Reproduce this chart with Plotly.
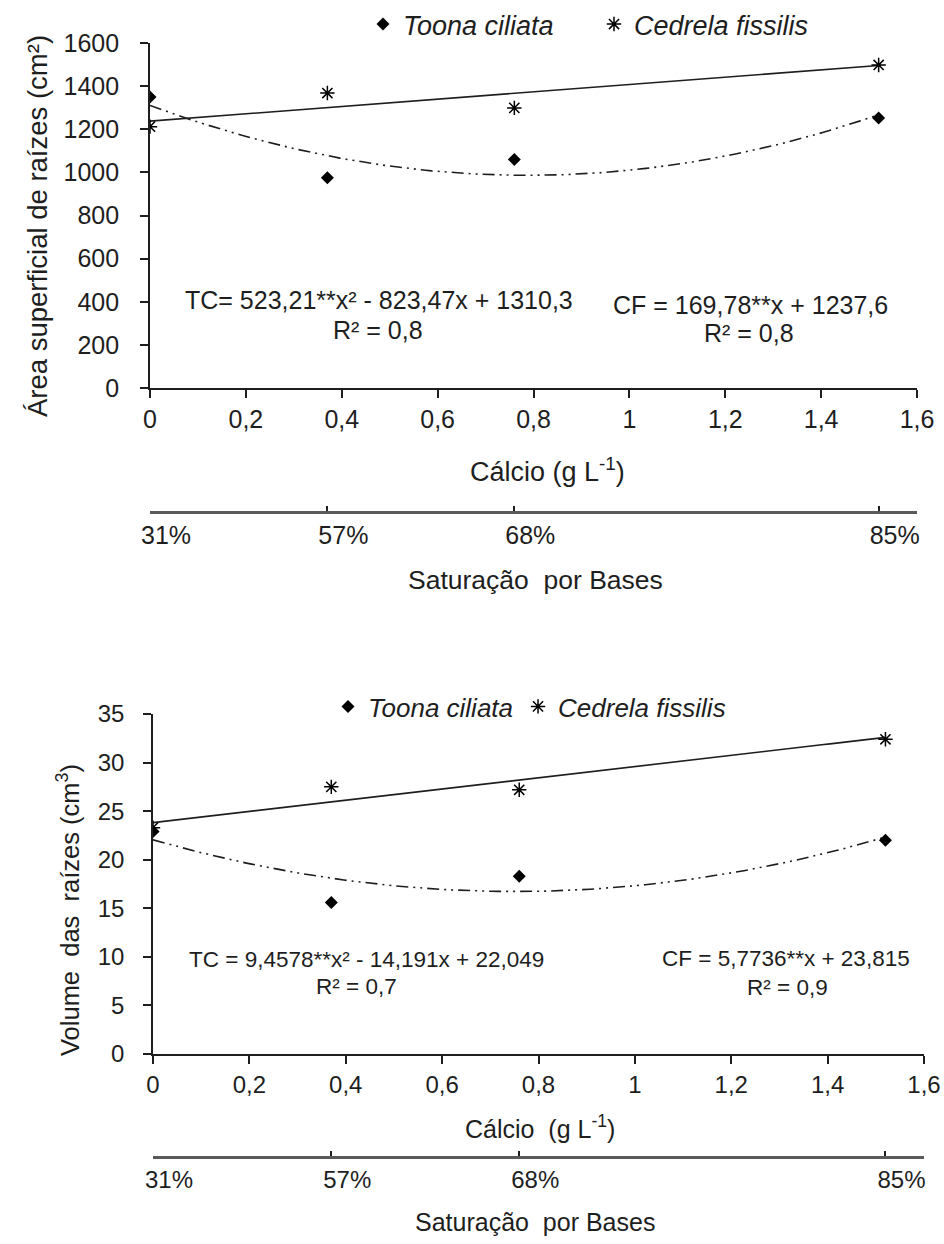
import numpy as np
import plotly.graph_objects as go

# ---- data -------------------------------------------------------------
calcio = [0, 0.37, 0.76, 1.52]                     # Ca (g L-1)
saturacao_ticks = ["31%", "57%", "68%", "85%"]     # base saturation at each Ca level

area_toona = [1350, 975, 1060, 1252]               # root surface area (cm²)
area_cedrela = [1212, 1368, 1299, 1498]

vol_toona = [22.9, 15.6, 18.3, 22.0]               # root volume (cm³)
vol_cedrela = [23.3, 27.5, 27.2, 32.4]

# regression coefficients stated in the equations
area_tc = [523.21, -823.47, 1310.3]   # quadratic
area_cf = [169.78, 1237.6]            # linear
vol_tc = [9.4578, -14.191, 22.049]
vol_cf = [5.7736, 23.815]

W, H = 944, 1244
FONT = "Liberation Sans, Arial, sans-serif"
INK = "#1e1e1e"


def px_x(p):
    return p / W


def px_y(p):
    return 1 - p / H


xfit = np.linspace(0, max(calcio), 120)

fig = go.Figure()

panels = [
    dict(xa="x", ya="y", toona=area_toona, cedrela=area_cedrela, tc=area_tc, cf=area_cf, legend="legend"),
    dict(xa="x2", ya="y2", toona=vol_toona, cedrela=vol_cedrela, tc=vol_tc, cf=vol_cf, legend="legend2"),
]

for p in panels:
    fig.add_trace(go.Scatter(
        x=xfit, y=np.polyval(p["tc"], xfit), mode="lines",
        line=dict(color=INK, width=1.6, dash="12px,5px,2px,5px,2px,5px"),
        xaxis=p["xa"], yaxis=p["ya"], showlegend=False, hoverinfo="skip"))
    fig.add_trace(go.Scatter(
        x=xfit, y=np.polyval(p["cf"], xfit), mode="lines",
        line=dict(color=INK, width=1.6),
        xaxis=p["xa"], yaxis=p["ya"], showlegend=False, hoverinfo="skip"))
    fig.add_trace(go.Scatter(
        x=calcio, y=p["toona"], mode="markers", name="Toona ciliata",
        marker=dict(symbol="diamond", size=10, color="black"),
        xaxis=p["xa"], yaxis=p["ya"], legend=p["legend"]))
    fig.add_trace(go.Scatter(
        x=calcio, y=p["cedrela"], mode="markers", name="Cedrela fissilis",
        marker=dict(symbol="asterisk-open", size=12, color="black",
                    line=dict(color="black", width=1.5)),
        xaxis=p["xa"], yaxis=p["ya"], legend=p["legend"]))

# carriers for the base-saturation axes
fig.add_trace(go.Scatter(x=calcio, y=[None] * len(calcio), xaxis="x3", yaxis="y",
                         showlegend=False, hoverinfo="skip"))
fig.add_trace(go.Scatter(x=calcio, y=[None] * len(calcio), xaxis="x4", yaxis="y2",
                         showlegend=False, hoverinfo="skip"))

common_axis = dict(showline=True, linecolor=INK, linewidth=1.6, ticks="outside",
                   tickcolor=INK, tickwidth=1.6, ticklen=8, showgrid=False,
                   zeroline=False, color=INK, automargin=False)

sat_axis = dict(range=[0, 1.6], tickvals=calcio + [1.6], ticktext=saturacao_ticks + [""],
                showline=True, linecolor="#5a5a5a", linewidth=3, ticks="inside",
                ticklen=5, tickwidth=1.5, tickcolor=INK, showgrid=False, zeroline=False,
                ticklabelshift=16, ticklabelstandoff=0, automargin=False)

fig.update_layout(
    template="none",
    width=W, height=H,
    margin=dict(l=0, r=0, t=0, b=0, autoexpand=False),
    paper_bgcolor="white", plot_bgcolor="white",
    separators=",.",
    font=dict(family=FONT, color=INK, size=24),
    xaxis=dict(domain=[px_x(150), px_x(917)], anchor="y", range=[0, 1.6], dtick=0.2,
               tickfont=dict(size=25), ticklabelstandoff=0, **common_axis),
    yaxis=dict(domain=[px_y(388), px_y(43)], anchor="x", range=[0, 1600], dtick=200,
               tickfont=dict(size=25), ticklabelstandoff=16, **common_axis),
    xaxis2=dict(domain=[px_x(153), px_x(924)], anchor="y2", range=[0, 1.6], dtick=0.2,
                tickfont=dict(size=24), ticklabelstandoff=0, **common_axis),
    yaxis2=dict(domain=[px_y(1054), px_y(714)], anchor="x2", range=[0, 35], dtick=5,
                tickfont=dict(size=24), ticklabelstandoff=14, **common_axis),
    xaxis3=dict(overlaying="x", anchor="free", position=px_y(512),
                tickfont=dict(size=25, color=INK), **sat_axis),
    xaxis4=dict(overlaying="x2", anchor="free", position=px_y(1157),
                tickfont=dict(size=24, color=INK), **sat_axis),
    legend=dict(orientation="h", x=px_x(363), y=px_y(0), xanchor="left", yanchor="top",
                font=dict(size=27, style="italic", color=INK), bgcolor="rgba(0,0,0,0)",
                itemwidth=30, entrywidthmode="pixels", entrywidth=186),
    legend2=dict(orientation="h", x=px_x(328), y=px_y(683), xanchor="left", yanchor="top",
                 font=dict(size=26, style="italic", color=INK), bgcolor="rgba(0,0,0,0)",
                 itemwidth=30),
    showlegend=True,
)


def label(text, x, y, size, angle=0):
    fig.add_annotation(text=text, x=px_x(x), y=px_y(y), xref="paper", yref="paper",
                       showarrow=False, xanchor="center", yanchor="middle",
                       textangle=angle, font=dict(size=size, color=INK, family=FONT))


# axis titles
label("Área superficial de raízes (cm²)", 38, 226, 27.5, -90)
label("Cálcio (g L<sup>-1</sup>)", 547, 470, 27)
label("Saturação  por Bases", 535, 580, 26.5)
label("Volume  das  raízes (cm<sup>3</sup>)", 68, 910, 25.5, -90)
label("Cálcio  (g L<sup>-1</sup>)", 540, 1127, 25)
label("Saturação  por Bases", 535, 1222, 25)

# regression equations
label("TC= 523,21**x² - 823,47x + 1310,3", 379, 300, 25)
label("R² = 0,8", 378, 330, 25)
label("CF = 169,78**x + 1237,6", 750, 305, 25)
label("R² = 0,8", 749, 333, 25)
label("TC = 9,4578**x² - 14,191x + 22,049", 366, 960, 22.5)
label("R² = 0,7", 356, 986, 22.5)
label("CF = 5,7736**x + 23,815", 786, 958, 22.5)
label("R² = 0,9", 787, 988, 22.5)

fig.write_html("out.html")
